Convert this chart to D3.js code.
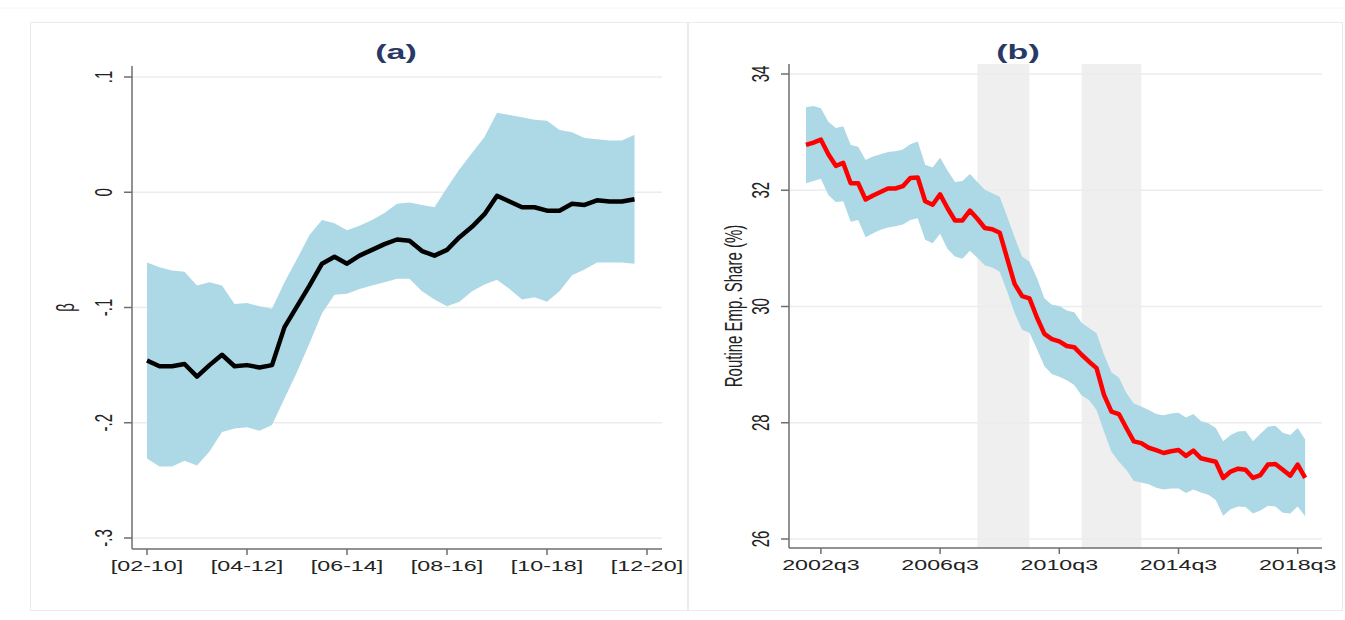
<!DOCTYPE html>
<html>
<head>
<meta charset="utf-8">
<script src="https://cdn.jsdelivr.net/npm/d3@7"></script>
<style>
  body { margin: 0; background: #fff; }
  svg { display: block; }
</style>
</head>
<body>
<div id="chart"></div>
<script>
// panel (a): rolling 8-year windows, quarterly steps
const windowTicks = ["[02-10]", "[04-12]", "[06-14]", "[08-16]", "[10-18]", "[12-20]"];
const betaTicks = [0.1, 0, -0.1, -0.2, -0.3];
const beta = [-0.146, -0.151, -0.151, -0.149, -0.160, -0.150, -0.141, -0.151, -0.150, -0.152,
  -0.150, -0.117, -0.099, -0.081, -0.062, -0.056, -0.062, -0.055, -0.050, -0.045,
  -0.041, -0.042, -0.051, -0.055, -0.050, -0.039, -0.030, -0.019, -0.003, -0.008,
  -0.013, -0.013, -0.016, -0.016, -0.010, -0.011, -0.007, -0.008, -0.008, -0.006];
const betaHi = [-0.061, -0.065, -0.068, -0.069, -0.081, -0.078, -0.081, -0.097, -0.096, -0.099,
  -0.101, -0.078, -0.058, -0.037, -0.024, -0.027, -0.033, -0.029, -0.024, -0.018,
  -0.010, -0.009, -0.011, -0.013, 0.004, 0.020, 0.034, 0.048, 0.069, 0.067,
  0.065, 0.063, 0.062, 0.054, 0.052, 0.047, 0.046, 0.045, 0.045, 0.050];
const betaLo = [-0.231, -0.238, -0.238, -0.233, -0.237, -0.225, -0.208, -0.205, -0.204, -0.207,
  -0.202, -0.179, -0.156, -0.131, -0.105, -0.089, -0.088, -0.084, -0.081, -0.078,
  -0.075, -0.075, -0.086, -0.093, -0.099, -0.095, -0.086, -0.080, -0.076, -0.084,
  -0.093, -0.091, -0.095, -0.086, -0.072, -0.067, -0.061, -0.061, -0.061, -0.062];

// panel (b): routine employment share, 2002q1 - 2018q4
const quarters = [];
for (let yr = 2002; yr <= 2018; yr++) {
  for (let q = 1; q <= 4; q++) quarters.push(yr + "q" + q);
}
const quarterTicks = ["2002q3", "2006q3", "2010q3", "2014q3", "2018q3"];
const shareTicks = [26, 28, 30, 32, 34];
const share = [32.78, 32.82, 32.87, 32.62, 32.42, 32.47, 32.12, 32.12, 31.84, 31.91,
  31.97, 32.03, 32.03, 32.07, 32.21, 32.22, 31.81, 31.75, 31.93, 31.69,
  31.48, 31.48, 31.65, 31.51, 31.35, 31.33, 31.27, 30.83, 30.39, 30.18,
  30.14, 29.81, 29.53, 29.44, 29.40, 29.32, 29.30, 29.17, 29.05, 28.94,
  28.48, 28.19, 28.15, 27.91, 27.68, 27.65, 27.57, 27.53, 27.48, 27.51,
  27.53, 27.43, 27.52, 27.39, 27.36, 27.33, 27.05, 27.16, 27.21, 27.19,
  27.05, 27.10, 27.28, 27.29, 27.19, 27.09, 27.28, 27.05];
const shareHi = [33.43, 33.45, 33.41, 33.18, 33.07, 33.10, 32.78, 32.75, 32.52, 32.58,
  32.62, 32.66, 32.67, 32.70, 32.79, 32.84, 32.44, 32.39, 32.56, 32.34,
  32.14, 32.16, 32.28, 32.14, 32.01, 31.95, 31.89, 31.55, 31.19, 30.86,
  30.77, 30.49, 30.14, 30.03, 30.01, 29.93, 29.90, 29.72, 29.63, 29.54,
  29.17, 28.87, 28.78, 28.51, 28.33, 28.28, 28.22, 28.15, 28.13, 28.16,
  28.17, 28.09, 28.15, 28.03, 27.99, 27.91, 27.68, 27.79, 27.85, 27.86,
  27.68, 27.81, 27.93, 27.95, 27.83, 27.79, 27.91, 27.71];
const shareLo = [32.12, 32.16, 32.20, 31.92, 31.80, 31.81, 31.46, 31.49, 31.19, 31.26,
  31.32, 31.36, 31.38, 31.41, 31.49, 31.52, 31.15, 31.09, 31.25, 30.99,
  30.86, 30.82, 30.96, 30.84, 30.71, 30.67, 30.60, 30.26, 29.89, 29.60,
  29.55, 29.27, 28.97, 28.84, 28.79, 28.73, 28.65, 28.47, 28.39, 28.22,
  27.85, 27.50, 27.33, 27.19, 27.00, 26.97, 26.94, 26.88, 26.85, 26.87,
  26.87, 26.79, 26.85, 26.80, 26.76, 26.67, 26.40, 26.51, 26.56, 26.55,
  26.44, 26.49, 26.57, 26.56, 26.45, 26.44, 26.56, 26.39];
const recessions = [["2007q4", "2009q3"], ["2011q2", "2013q2"]];

const width = 1345;
const height = 620;
const bandColor = "#add8e6";
const gridColor = "#ececec";
const axisColor = "#6e6e6e";
const labelFont = "'Liberation Sans', Arial, sans-serif";
const stretch = 1.55; // the original picture is widened, text included

const svg = d3.select("#chart").append("svg")
  .attr("width", width)
  .attr("height", height);

svg.append("rect").attr("width", width).attr("height", height).attr("fill", "#fff");

// faint graph region frames
svg.append("line").attr("x1", 0).attr("x2", width).attr("y1", 8).attr("y2", 8)
  .attr("stroke", "#f6f6f6");
svg.append("rect").attr("x", 30.5).attr("y", 22.5).attr("width", 657).attr("height", 588)
  .attr("fill", "none").attr("stroke", "#ebebeb");
svg.append("rect").attr("x", 688.5).attr("y", 22.5).attr("width", 654).attr("height", 588)
  .attr("fill", "none").attr("stroke", "#ebebeb");

function yTickFormatA(d) {
  if (d === 0) return "0";
  return (d < 0 ? "-" : "") + String(Math.abs(d)).replace(/^0/, "");
}

// draws one panel's axes, ticks and labels
function drawAxes(g, o) {
  g.append("line").attr("x1", o.left).attr("x2", o.left).attr("y1", o.top).attr("y2", o.bottom)
    .attr("stroke", axisColor).attr("stroke-width", 1.5);
  g.append("line").attr("x1", o.left).attr("x2", o.right).attr("y1", o.bottom).attr("y2", o.bottom)
    .attr("stroke", axisColor).attr("stroke-width", 1.5);

  g.selectAll("line.ytick").data(o.yTicks).enter().append("line")
    .attr("x1", o.left - 8).attr("x2", o.left)
    .attr("y1", d => o.y(d)).attr("y2", d => o.y(d))
    .attr("stroke", axisColor).attr("stroke-width", 1.5);
  g.selectAll("text.ytick").data(o.yTicks).enter().append("text")
    .attr("transform", d => `translate(${o.left - o.yLabelGap},${o.y(d)}) scale(${stretch},1) rotate(-90)`)
    .attr("text-anchor", "middle")
    .attr("dy", "0.36em")
    .attr("font-family", labelFont).attr("font-size", 15).attr("fill", "#222")
    .text(o.yFormat);

  g.selectAll("line.xtick").data(o.xTicks).enter().append("line")
    .attr("x1", o.xPos).attr("x2", o.xPos)
    .attr("y1", o.bottom).attr("y2", o.bottom + 6)
    .attr("stroke", axisColor).attr("stroke-width", 1.5);
  g.selectAll("text.xtick").data(o.xTicks).enter().append("text")
    .attr("transform", (d, i) => `translate(${o.xPos(d, i)},${o.bottom + 22}) scale(${stretch},1)`)
    .attr("text-anchor", "middle")
    .attr("font-family", labelFont).attr("font-size", 15).attr("fill", "#222")
    .text(d => d);

  g.append("text")
    .attr("transform", `translate(${o.titleX},59) scale(1.7,1)`)
    .attr("text-anchor", "middle")
    .attr("font-family", labelFont).attr("font-size", 20).attr("font-weight", "bold")
    .attr("fill", "#2a3866")
    .text(o.title);
}

// ---------- panel (a) ----------
const xA = d3.scaleLinear().domain([0, 40]).range([147, 647]);
const yA = d3.scaleLinear().domain([-0.3, 0.1]).range([538, 77]);
const gA = svg.append("g");
const leftA = 132, rightA = 662, topA = 66, bottomA = 549;

gA.selectAll("line.grid").data(betaTicks).enter().append("line")
  .attr("class", "grid")
  .attr("x1", leftA).attr("x2", rightA)
  .attr("y1", d => yA(d)).attr("y2", d => yA(d))
  .attr("stroke", gridColor).attr("stroke-width", 1.5);

const idxA = d3.range(beta.length);
gA.append("path")
  .datum(idxA)
  .attr("fill", bandColor)
  .attr("d", d3.area().x(i => xA(i)).y0(i => yA(betaLo[i])).y1(i => yA(betaHi[i])));

gA.append("path")
  .datum(idxA)
  .attr("fill", "none")
  .attr("stroke", "#000")
  .attr("stroke-width", 4.5)
  .attr("stroke-linejoin", "round")
  .attr("d", d3.line().x(i => xA(i)).y(i => yA(beta[i])));

drawAxes(gA, {
  left: leftA, right: rightA, top: topA, bottom: bottomA,
  y: yA, yTicks: betaTicks, yFormat: yTickFormatA, yLabelGap: 28,
  xTicks: windowTicks, xPos: (d, i) => xA(i * 8),
  title: "(a)", titleX: 396
});

gA.append("text")
  .attr("transform", `translate(66,${(topA + bottomA) / 2}) scale(${stretch},1) rotate(-90)`)
  .attr("text-anchor", "middle")
  .attr("dy", "0.36em")
  .attr("font-family", labelFont).attr("font-size", 15).attr("fill", "#222")
  .text("β");

// ---------- panel (b) ----------
const xB = d3.scaleLinear().domain([0, quarters.length - 1]).range([806, 806 + 7.45 * (quarters.length - 1)]);
const yB = d3.scaleLinear().domain([26, 34]).range([539, 74]);
const gB = svg.append("g");
const leftB = 789, rightB = 1322, topB = 64, bottomB = 548;
const qx = q => xB(quarters.indexOf(q));

gB.selectAll("rect.rec").data(recessions).enter().append("rect")
  .attr("x", d => qx(d[0]))
  .attr("width", d => qx(d[1]) - qx(d[0]))
  .attr("y", topB).attr("height", bottomB - topB)
  .attr("fill", "#efefef");

gB.selectAll("line.grid").data(shareTicks).enter().append("line")
  .attr("x1", leftB).attr("x2", rightB)
  .attr("y1", d => yB(d)).attr("y2", d => yB(d))
  .attr("stroke", gridColor).attr("stroke-width", 1.5);

const idxB = d3.range(share.length);
gB.append("path")
  .datum(idxB)
  .attr("fill", bandColor)
  .attr("d", d3.area().x(i => xB(i)).y0(i => yB(shareLo[i])).y1(i => yB(shareHi[i])));

gB.append("path")
  .datum(idxB)
  .attr("fill", "none")
  .attr("stroke", "#ff0000")
  .attr("stroke-width", 4.5)
  .attr("stroke-linejoin", "round")
  .attr("d", d3.line().x(i => xB(i)).y(i => yB(share[i])));

drawAxes(gB, {
  left: leftB, right: rightB, top: topB, bottom: bottomB,
  y: yB, yTicks: shareTicks, yFormat: d => d, yLabelGap: 28,
  xTicks: quarterTicks, xPos: d => qx(d),
  title: "(b)", titleX: 1018
});

gB.append("text")
  .attr("transform", `translate(734,${(topB + bottomB) / 2}) scale(${stretch},1) rotate(-90)`)
  .attr("text-anchor", "middle")
  .attr("dy", "0.36em")
  .attr("font-family", "'Liberation Sans Narrow', 'Arial Narrow', " + labelFont)
  .attr("font-size", 15).attr("fill", "#222")
  .text("Routine Emp. Share (%)");
</script>
</body>
</html>
